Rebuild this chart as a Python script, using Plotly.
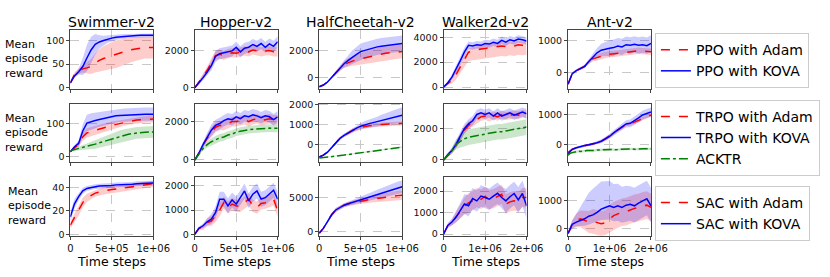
import plotly.graph_objects as go

# ---------------- data ----------------
ENV_NAMES = ["Swimmer-v2", "Hopper-v2", "HalfCheetah-v2", "Walker2d-v2", "Ant-v2"]
X_MAX = [1e6, 1e6, 1e6, 2e6, 2e6]
X_TICKVALS = [[0, 5e5, 1e6]] * 3 + [[0, 1e6, 2e6]] * 2
X_TICKTEXT = [["0", "5e+05", "1e+06"]] * 3 + [["0", "1e+06", "2e+06"]] * 2

LEGEND_NAMES = [["PPO with Adam", "PPO with KOVA"],
                ["TRPO with Adam", "TRPO with KOVA", "ACKTR"],
                ["SAC with Adam", "SAC with KOVA"]]

Y_RANGES = [[-2, 122], [-50, 3130], [-790, 3540], [-130, 4570], [-490, 1320],
            [-17, 161], [-115, 2935], [-910, 2065], [-140, 3590], [-580, 1377],
            [-1, 48.5], [-30, 2325], [-570, 8000], [-80, 2650], [-260, 1860]]
Y_TICKS = [[0, 50, 100], [0, 2000], [0, 2000], [0, 2000, 4000], [0, 1000],
           [0, 100], [0, 2000], [0, 1000, 2000], [0, 2000], [0, 1000],
           [0, 20, 40], [0, 1000, 2000], [0, 5000], [0, 1000, 2000], [0, 1000]]

# ---- Row 1: PPO ----
sw_ppo_adam = [10, 28, 35, 40, 42, 45, 52, 58, 62, 65, 68, 71, 74, 77, 79, 81, 83, 84, 85, 85, 85]
sw_ppo_adam_sd = [3, 5, 6, 8, 12, 16, 20, 24, 26, 28, 29, 29, 29, 28, 27, 26, 25, 24, 23, 23, 23]
sw_ppo_kova = [10, 25, 34, 45, 63, 80, 92, 97, 100, 103, 105, 107, 108, 109, 110, 110, 110.5, 111, 111, 111, 111]
sw_ppo_kova_sd = [3, 4, 6, 18, 28, 28, 22, 14, 10, 8, 7, 6, 5, 5, 4, 4, 4, 4, 4, 4, 4]

hop_ppo_adam = [0, 280, 620, 950, 1350, 1750, 1820, 1750, 1850, 1900, 1880, 1950, 2000, 1950, 2050, 2000, 1950, 2000, 2020, 1950, 1950]
hop_ppo_adam_sd = [30, 100, 150, 200, 250, 250, 250, 250, 250, 250, 250, 250, 250, 250, 250, 250, 250, 250, 250, 250, 250]
hop_ppo_kova = [0, 250, 550, 850, 1200, 1700, 1850, 1900, 1950, 2000, 2200, 1950, 2150, 2200, 2350, 2250, 2400, 2200, 2380, 2250, 2500]
hop_ppo_kova_sd = [30, 100, 150, 200, 250, 300, 300, 300, 300, 300, 300, 300, 300, 300, 300, 300, 300, 300, 300, 300, 300]

hc_ppo_adam = [-650, -520, -300, 50, 400, 700, 1000, 1150, 1250, 1350, 1420, 1500, 1580, 1650, 1720, 1780, 1830, 1870, 1900, 1930, 1950]
hc_ppo_adam_sd = [30, 40, 60, 100, 150, 200, 250, 300, 350, 400, 420, 440, 460, 480, 500, 500, 500, 500, 500, 500, 500]
hc_ppo_kova = [-650, -520, -300, 50, 420, 750, 1050, 1300, 1550, 1750, 1950, 2050, 2150, 2250, 2300, 2350, 2400, 2450, 2480, 2520, 2550]
hc_ppo_kova_sd = [30, 40, 60, 100, 150, 200, 300, 400, 500, 550, 600, 600, 600, 600, 600, 600, 600, 600, 600, 600, 600]

wk_ppo_adam = [0, 300, 550, 1000, 1550, 2200, 2800, 2900, 3000, 3050, 3100, 3150, 3200, 3250, 3300, 3250, 3350, 3300, 3400, 3350, 3400]
wk_ppo_adam_sd = [10, 150, 200, 250, 300, 300, 300, 300, 300, 300, 300, 300, 300, 300, 300, 300, 300, 300, 300, 300, 300]
wk_ppo_adam_sd_lo = [10, 150, 250, 400, 500, 600, 700, 750, 800, 800, 800, 800, 800, 800, 800, 800, 800, 800, 800, 800, 800]
wk_ppo_kova = [0, 350, 800, 1400, 2100, 2800, 3350, 3300, 3400, 3350, 3500, 3450, 3600, 3500, 3750, 3600, 3800, 3700, 3850, 3800, 3700]
wk_ppo_kova_sd = [10, 100, 200, 300, 350, 350, 300, 300, 300, 300, 300, 300, 300, 300, 300, 300, 300, 300, 300, 300, 300]

ant_ppo_adam = [-350, -30, 70, 130, 200, 330, 430, 470, 520, 550, 575, 590, 600, 615, 630, 650, 660, 680, 670, 665, 650]
ant_ppo_adam_sd = [40, 40, 40, 40, 50, 60, 80, 90, 100, 100, 100, 100, 100, 100, 100, 100, 100, 100, 100, 100, 100]
ant_ppo_kova = [-350, -30, 70, 130, 200, 350, 500, 620, 700, 740, 760, 780, 830, 800, 870, 850, 880, 850, 870, 840, 910]
ant_ppo_kova_sd = [40, 40, 40, 40, 50, 70, 100, 150, 200, 220, 250, 250, 250, 250, 250, 250, 250, 250, 250, 250, 250]

# ---- Row 2: TRPO / ACKTR ----
sw_trpo_adam = [15, 28, 38, 60, 72, 76, 80, 85, 88, 92, 95, 98, 101, 104, 107, 109, 111, 112, 113, 114, 114]
sw_trpo_adam_sd = [3, 5, 8, 12, 14, 14, 14, 13, 13, 12, 12, 11, 10, 10, 10, 10, 10, 10, 10, 10, 10]
sw_trpo_kova = [15, 30, 40, 78, 102, 107, 110, 113, 116, 119, 122, 124, 125, 126, 127, 128, 128, 129, 129, 129, 129]
sw_trpo_kova_sd = [3, 6, 10, 20, 25, 25, 24, 22, 22, 21, 21, 20, 20, 20, 20, 20, 20, 20, 20, 20, 20]
sw_acktr = [18, 21, 24, 27, 30, 34, 38, 42, 46, 50, 54, 58, 62, 65, 68, 70, 72, 73, 74, 75, 75]
sw_acktr_sd = [2, 4, 6, 8, 10, 12, 14, 15, 16, 17, 18, 18, 18, 18, 18, 18, 18, 18, 18, 18, 18]

hop_trpo_adam = [0, 350, 800, 1150, 1450, 1700, 1800, 1800, 1900, 2000, 2000, 2050, 2100, 2000, 2100, 2150, 2050, 2100, 2150, 2100, 2100]
hop_trpo_adam_sd = [30, 100, 150, 200, 250, 250, 250, 250, 250, 250, 250, 250, 250, 250, 250, 250, 250, 250, 250, 250, 250]
hop_trpo_kova = [0, 350, 800, 1200, 1550, 1800, 1900, 2050, 2150, 2100, 2250, 2150, 2300, 2250, 2350, 2300, 2200, 2300, 2250, 2100, 2250]
hop_trpo_kova_sd = [30, 100, 150, 200, 300, 300, 300, 300, 300, 300, 300, 300, 300, 300, 300, 300, 300, 300, 300, 300, 300]
hop_acktr = [0, 300, 600, 800, 950, 1050, 1150, 1200, 1300, 1350, 1450, 1500, 1550, 1580, 1600, 1620, 1650, 1640, 1660, 1650, 1650]
hop_acktr_sd = [20, 60, 100, 150, 180, 200, 200, 200, 200, 200, 200, 200, 200, 200, 200, 200, 200, 200, 200, 200, 200]

hc_trpo_adam = [-650, -550, -400, -150, 100, 300, 450, 580, 700, 780, 850, 900, 940, 970, 990, 1010, 1020, 1030, 1040, 1050, 1060]
hc_trpo_adam_sd = [20, 30, 40, 50, 60, 70, 80, 90, 100, 100, 100, 100, 100, 100, 100, 100, 100, 100, 100, 100, 100]
hc_trpo_kova = [-650, -550, -400, -150, 100, 300, 450, 580, 700, 820, 920, 1000, 1050, 1100, 1150, 1220, 1280, 1330, 1380, 1430, 1480]
hc_trpo_kova_sd = [20, 30, 40, 50, 60, 70, 80, 90, 100, 120, 150, 180, 200, 220, 250, 280, 300, 330, 350, 380, 400]
hc_acktr = [-700, -680, -655, -630, -600, -575, -550, -520, -490, -465, -430, -400, -375, -340, -310, -285, -250, -220, -195, -165, -145]
hc_acktr_sd = [20, 20, 25, 25, 30, 30, 30, 30, 30, 30, 30, 30, 30, 30, 30, 30, 30, 30, 30, 30, 30]

wk_trpo_adam = [0, 300, 550, 950, 1450, 1900, 2200, 2400, 2600, 2750, 2800, 2700, 2850, 2750, 2900, 2800, 2850, 2900, 2850, 2950, 2900]
wk_trpo_adam_sd = [20, 100, 150, 200, 250, 250, 250, 250, 250, 250, 250, 250, 250, 250, 250, 250, 250, 250, 250, 250, 250]
wk_trpo_kova = [0, 350, 600, 1000, 1500, 2000, 2300, 2500, 2900, 3000, 2900, 3000, 2800, 3000, 2800, 2900, 3000, 2850, 2950, 3050, 2950]
wk_trpo_kova_sd = [20, 100, 150, 250, 300, 300, 300, 300, 300, 300, 300, 300, 300, 300, 300, 300, 300, 300, 300, 300, 300]
wk_acktr = [0, 300, 600, 1000, 1200, 1350, 1450, 1500, 1550, 1600, 1650, 1700, 1750, 1800, 1800, 1850, 1900, 1950, 2000, 2050, 2100]
wk_acktr_sd = [20, 100, 200, 300, 400, 450, 500, 500, 500, 500, 500, 500, 500, 500, 500, 500, 500, 500, 500, 500, 500]

ant_trpo_adam = [-250, -150, -100, -60, -30, 0, 30, 70, 120, 200, 290, 400, 500, 600, 680, 700, 760, 830, 900, 950, 1000]
ant_trpo_adam_sd = [40, 40, 40, 40, 40, 40, 40, 40, 50, 50, 60, 60, 60, 60, 60, 60, 60, 60, 60, 60, 60]
ant_trpo_kova = [-300, -150, -100, -50, -20, 0, 30, 70, 120, 200, 280, 400, 500, 620, 700, 720, 800, 900, 1000, 1050, 1100]
ant_trpo_kova_sd = [40, 40, 40, 40, 40, 40, 40, 50, 60, 70, 80, 90, 100, 110, 120, 130, 140, 150, 150, 150, 150]
ant_acktr = [-350, -280, -260, -240, -230, -215, -220, -200, -205, -190, -195, -185, -180, -190, -175, -170,
             -180, -165, -170, -160, -165, -155, -165, -150, -160, -150, -145, -155, -140, -150, -145, -135,
             -150, -140, -130, -145, -135, -130, -140, -125, -135]
ant_acktr_sd = [40] * 41

# ---- Row 3: SAC ----
sw_sac_adam = [8, 14, 20, 27, 31, 33, 35, 36, 37, 37.5, 38, 38.5, 39, 39.5, 40, 40.5, 41, 41.5, 42, 42.5, 43]
sw_sac_adam_sd = [3, 4, 4, 4, 3.5, 3, 3, 3, 3, 3, 3, 3, 3, 3, 3, 3, 3, 3, 3, 2.5, 2.5]
sw_sac_kova = [15, 26, 32, 37, 39, 40, 40.5, 41, 41, 41.5, 41.5, 42, 42, 42, 42.5, 42.5, 43, 43, 43, 43, 43.5]
sw_sac_kova_sd = [4, 4, 3, 2.5, 2, 2, 2, 2, 2, 2, 2, 2, 2, 2, 2, 2, 2, 2, 2, 2, 2]

hop_sac_adam = [30, 270, 300, 500, 560, 760, 1000, 1300, 1100, 1240, 1170, 1170, 1300, 1440, 1170, 1100, 1270, 1300, 1370, 1440, 970]
hop_sac_adam_sd = [20, 60, 100, 150, 200, 250, 250, 250, 250, 250, 250, 250, 250, 250, 250, 250, 250, 250, 250, 250, 250]
hop_sac_kova = [30, 270, 370, 530, 640, 900, 1440, 1440, 1170, 1410, 1240, 1500, 1770, 1370, 1640, 1770, 1440, 1500, 1640, 1800, 1440]
hop_sac_kova_sd = [20, 60, 100, 150, 200, 250, 300, 300, 300, 300, 300, 300, 300, 300, 300, 300, 300, 300, 300, 300, 300]

hc_sac_adam = [-200, 500, 1500, 2500, 3200, 3600, 3900, 4100, 4250, 4400, 4500, 4600, 4700, 4800, 4900, 5000, 5050, 5150, 5250, 5300, 5350]
hc_sac_adam_sd = [50, 100, 200, 250, 300, 300, 300, 320, 350, 380, 400, 430, 460, 500, 530, 560, 600, 630, 660, 700, 700]
hc_sac_kova = [-200, 500, 1500, 2500, 3200, 3600, 3900, 4100, 4300, 4500, 4700, 4900, 5100, 5300, 5500, 5700, 5900, 6100, 6300, 6450, 6600]
hc_sac_kova_sd = [50, 100, 200, 250, 300, 300, 300, 320, 350, 400, 450, 500, 550, 600, 650, 700, 750, 800, 850, 900, 900]

wk_sac_adam = [0, 380, 540, 800, 1050, 1300, 1450, 1550, 1700, 1620, 1750, 1600, 1650, 1750, 1850, 1400, 1500, 1550, 1500, 1700, 1700]
wk_sac_adam_sd = [20, 100, 150, 250, 350, 400, 450, 450, 450, 450, 450, 450, 450, 450, 450, 450, 450, 450, 450, 450, 450]
wk_sac_kova = [0, 400, 560, 790, 1090, 1400, 1320, 1650, 1545, 1770, 1700, 1620, 1770, 1900, 1700, 1545, 1740, 1890, 1590, 1890, 1320]
wk_sac_kova_sd = [20, 100, 150, 250, 350, 450, 500, 500, 500, 500, 500, 500, 500, 500, 500, 550, 550, 550, 600, 600, 600]

ant_sac_adam = [-176, 150, 294, 353, 294, 235, 260, 212, 176, 212, 353, 470, 530, 588, 612, 682, 730, 764, 823, 847, 764]
ant_sac_adam_sd = [30, 150, 250, 300, 350, 400, 450, 450, 450, 450, 500, 500, 500, 500, 500, 500, 500, 500, 500, 500, 500]
ant_sac_kova = [-176, 150, 235, 294, 353, 447, 494, 588, 705, 764, 823, 764, 823, 764, 847, 882, 823, 918, 1000, 1082, 823]
ant_sac_kova_sd = [30, 150, 300, 500, 700, 850, 950, 1000, 1000, 950, 900, 850, 800, 750, 700, 650, 650, 650, 650, 650, 650]
ant_sac_kova_sd_lo = [30, 150, 150, 200, 250, 300, 300, 350, 400, 450, 500, 500, 550, 550, 600, 600, 600, 600, 600, 600, 600]

# ---------------- styling ----------------
RED, BLUE, GREEN = "#ff0000", "#0000ff", "#008000"
BAND = {RED: "rgba(255,0,0,0.2)", BLUE: "rgba(0,0,255,0.2)", GREEN: "rgba(0,128,0,0.2)"}
DASH = {RED: "dash", BLUE: "solid", GREEN: "dashdot"}
FONT = "DejaVu Sans, sans-serif"
W, H = 830, 277
COL_LEFT = [69, 196.5, 324, 451.5, 579]
COL_W = 85
ROW_TOP = [27, 103, 179]
ROW_H = 60.5

PANELS = [
    [(sw_ppo_adam, sw_ppo_adam_sd, None, RED), (sw_ppo_kova, sw_ppo_kova_sd, None, BLUE)],
    [(hop_ppo_adam, hop_ppo_adam_sd, None, RED), (hop_ppo_kova, hop_ppo_kova_sd, None, BLUE)],
    [(hc_ppo_adam, hc_ppo_adam_sd, None, RED), (hc_ppo_kova, hc_ppo_kova_sd, None, BLUE)],
    [(wk_ppo_adam, wk_ppo_adam_sd, wk_ppo_adam_sd_lo, RED), (wk_ppo_kova, wk_ppo_kova_sd, None, BLUE)],
    [(ant_ppo_adam, ant_ppo_adam_sd, None, RED), (ant_ppo_kova, ant_ppo_kova_sd, None, BLUE)],
    [(sw_trpo_adam, sw_trpo_adam_sd, None, RED), (sw_trpo_kova, sw_trpo_kova_sd, None, BLUE), (sw_acktr, sw_acktr_sd, None, GREEN)],
    [(hop_trpo_adam, hop_trpo_adam_sd, None, RED), (hop_trpo_kova, hop_trpo_kova_sd, None, BLUE), (hop_acktr, hop_acktr_sd, None, GREEN)],
    [(hc_trpo_adam, hc_trpo_adam_sd, None, RED), (hc_trpo_kova, hc_trpo_kova_sd, None, BLUE), (hc_acktr, hc_acktr_sd, None, GREEN)],
    [(wk_trpo_adam, wk_trpo_adam_sd, None, RED), (wk_trpo_kova, wk_trpo_kova_sd, None, BLUE), (wk_acktr, wk_acktr_sd, None, GREEN)],
    [(ant_trpo_adam, ant_trpo_adam_sd, None, RED), (ant_trpo_kova, ant_trpo_kova_sd, None, BLUE), (ant_acktr, ant_acktr_sd, None, GREEN)],
    [(sw_sac_adam, sw_sac_adam_sd, None, RED), (sw_sac_kova, sw_sac_kova_sd, None, BLUE)],
    [(hop_sac_adam, hop_sac_adam_sd, None, RED), (hop_sac_kova, hop_sac_kova_sd, None, BLUE)],
    [(hc_sac_adam, hc_sac_adam_sd, None, RED), (hc_sac_kova, hc_sac_kova_sd, None, BLUE)],
    [(wk_sac_adam, wk_sac_adam_sd, None, RED), (wk_sac_kova, wk_sac_kova_sd, None, BLUE)],
    [(ant_sac_adam, ant_sac_adam_sd, None, RED), (ant_sac_kova, ant_sac_kova_sd, ant_sac_kova_sd_lo, BLUE)],
]

fig = go.Figure()
layout = {}
LEGEND_IDS = ["legend", "legend2", "legend3"]

for k, series in enumerate(PANELS):
    r, c = divmod(k, 5)
    sfx = "" if k == 0 else str(k + 1)
    xa, ya = "x" + sfx, "y" + sfx
    for mean, sd_hi, sd_lo, col in series:
        n = len(mean)
        xs = [i / (n - 1) * X_MAX[c] for i in range(n)]
        lo_sd = sd_lo if sd_lo is not None else sd_hi
        hi = [m + s for m, s in zip(mean, sd_hi)]
        lo = [m - s for m, s in zip(mean, lo_sd)]
        fig.add_trace(go.Scatter(x=xs, y=hi, xaxis=xa, yaxis=ya, mode="lines",
                                 line=dict(width=0, color=col), showlegend=False,
                                 legend=LEGEND_IDS[r], hoverinfo="skip"))
        fig.add_trace(go.Scatter(x=xs, y=lo, xaxis=xa, yaxis=ya, mode="lines",
                                 line=dict(width=0, color=col), fill="tonexty",
                                 fillcolor=BAND[col], showlegend=False,
                                 legend=LEGEND_IDS[r], hoverinfo="skip"))
    for j, (mean, sd_hi, sd_lo, col) in enumerate(series):
        n = len(mean)
        xs = [i / (n - 1) * X_MAX[c] for i in range(n)]
        fig.add_trace(go.Scatter(x=xs, y=mean, xaxis=xa, yaxis=ya, mode="lines",
                                 line=dict(color=col, width=1.5, dash=DASH[col]),
                                 name=LEGEND_NAMES[r][j], legend=LEGEND_IDS[r],
                                 showlegend=(c == 0)))
    x0 = COL_LEFT[c] / W
    x1 = (COL_LEFT[c] + COL_W) / W
    y1 = 1 - ROW_TOP[r] / H
    y0 = 1 - (ROW_TOP[r] + ROW_H) / H
    common = dict(showline=True, mirror=True, linecolor="#444444", linewidth=1,
                  showgrid=True, gridcolor="#c8c8c8", griddash="dash", gridwidth=0.8,
                  zeroline=False, ticks="outside", ticklen=3, tickcolor="#444444", tickwidth=1)
    layout["xaxis" + sfx] = dict(common, domain=[x0, x1], anchor=ya, range=[0, X_MAX[c]],
                                 tickvals=X_TICKVALS[c], ticktext=X_TICKTEXT[c],
                                 showticklabels=(r == 2),
                                 tickfont=dict(family=FONT, size=10, color="#111"))
    layout["yaxis" + sfx] = dict(common, domain=[y0, y1], anchor=xa, range=Y_RANGES[k],
                                 tickvals=Y_TICKS[k], ticktext=[str(v) for v in Y_TICKS[k]],
                                 tickfont=dict(family=FONT, size=9.5, color="#111"))

annotations = []
for c, name in enumerate(ENV_NAMES):
    xc = (COL_LEFT[c] + COL_W / 2) / W
    annotations.append(dict(text=name, x=xc, y=1 - 19 / H, xref="paper", yref="paper",
                            showarrow=False, xanchor="center", yanchor="middle",
                            font=dict(family=FONT, size=14, color="#000")))
    annotations.append(dict(text="Time steps", x=xc, y=1 - 266 / H, xref="paper", yref="paper",
                            showarrow=False, xanchor="center", yanchor="middle",
                            font=dict(family=FONT, size=12.5, color="#000")))
YLAB_X = [0, 0, 3]
YLAB_Y = [57, 133, 209]
for r in range(3):
    annotations.append(dict(text="Mean<br>episode<br>reward", x=YLAB_X[r] / W, y=1 - YLAB_Y[r] / H,
                            xref="paper", yref="paper", showarrow=False, xanchor="left",
                            yanchor="middle", align="left",
                            font=dict(family=FONT, size=11, color="#000")))

LEG_TOP = [30, 99, 188]
for r in range(3):
    layout[LEGEND_IDS[r]] = dict(x=668 / W, y=1 - LEG_TOP[r] / H, xanchor="left", yanchor="top",
                                 bgcolor="white", bordercolor="#cccccc", borderwidth=1,
                                 font=dict(family=FONT, size=14, color="#000"),
                                 traceorder="normal", tracegroupgap=0)

fig.update_layout(**layout)
fig.update_layout(width=W, height=H, margin=dict(l=0, r=0, t=0, b=0),
                  plot_bgcolor="white", paper_bgcolor="white",
                  font=dict(family=FONT, color="#000"), annotations=annotations)
fig.write_html("out.html", config={"displayModeBar": False},
               post_script="document.body.style.margin='0px';")
